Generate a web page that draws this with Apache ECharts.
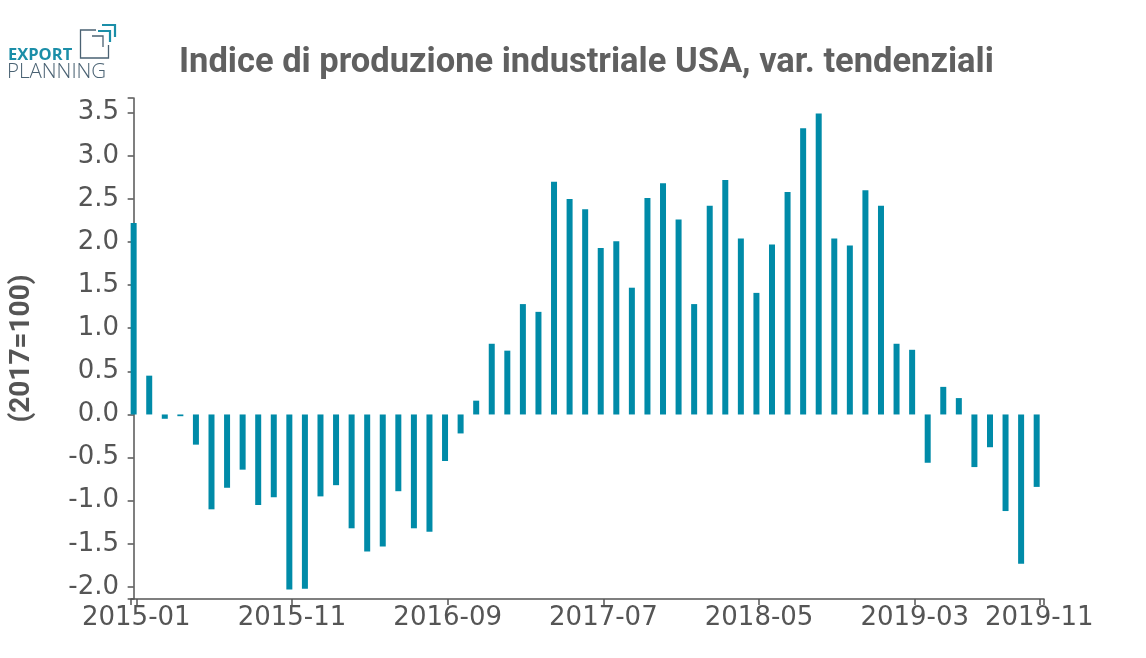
<!DOCTYPE html>
<html>
<head>
<meta charset="utf-8">
<script src="https://cdn.jsdelivr.net/npm/echarts@6/dist/echarts.min.js"></script>
<style>html,body{margin:0;padding:0;background:#fff;}#c{width:1146px;height:658px;}</style>
</head>
<body>
<div id="c"></div>
<script>
const months = ['2015-01','2015-02','2015-03','2015-04','2015-05','2015-06','2015-07','2015-08','2015-09','2015-10','2015-11','2015-12',
'2016-01','2016-02','2016-03','2016-04','2016-05','2016-06','2016-07','2016-08','2016-09','2016-10','2016-11','2016-12',
'2017-01','2017-02','2017-03','2017-04','2017-05','2017-06','2017-07','2017-08','2017-09','2017-10','2017-11','2017-12',
'2018-01','2018-02','2018-03','2018-04','2018-05','2018-06','2018-07','2018-08','2018-09','2018-10','2018-11','2018-12',
'2019-01','2019-02','2019-03','2019-04','2019-05','2019-06','2019-07','2019-08','2019-09','2019-10','2019-11'];
const values = [2.22,0.45,-0.05,-0.02,-0.35,-1.10,-0.85,-0.64,-1.05,-0.96,-2.03,-2.02,
-0.95,-0.82,-1.32,-1.59,-1.53,-0.89,-1.32,-1.36,-0.54,-0.22,0.16,0.82,
0.74,1.28,1.19,2.70,2.50,2.38,1.93,2.01,1.47,2.51,2.68,2.26,
1.28,2.42,2.72,2.04,1.41,1.97,2.58,3.32,3.49,2.04,1.96,2.60,
2.42,0.82,0.75,-0.56,0.32,0.19,-0.61,-0.38,-1.12,-1.73,-0.84];
const xTickLabels = ['2015-01','2015-11','2016-09','2017-07','2018-05','2019-03','2019-11'];
const yTickLabels = [-2.0,-1.5,-1.0,-0.5,0.0,0.5,1.0,1.5,2.0,2.5,3.0,3.5];

const OFF = 0.17;
const X_MIN = -0.17, X_MAX = 58.47;
const Y_MIN = -2.14, Y_MAX = 3.67;
const xTickPos = xTickLabels.map(l => months.indexOf(l) + OFF);

const chart = echarts.init(document.getElementById('c'), null, {renderer:'canvas'});
const axisColor = '#555555';
chart.setOption({
  animation: false,
  backgroundColor: '#ffffff',
  title: {
    text: 'Indice di produzione industriale USA, var. tendenziali',
    left: 174, top: 41,
    textStyle: {fontFamily: 'Roboto', fontWeight: 'bold', fontSize: 34.5, color: '#606060'}
  },
  grid: {left: 128, right: 102, top: 98, bottom: 59, containLabel: false},
  xAxis: {
    type: 'value', min: X_MIN, max: X_MAX,
    splitLine: {show: false},
    axisLine: {show: true, onZero: false, lineStyle: {color: axisColor, width: 1.5}},
    axisTick: {show: true, length: 6, lineStyle: {color: axisColor, width: 1.5},
      customValues: [X_MIN].concat(xTickPos, [X_MAX])},
    axisLabel: {show: true, margin: 6, fontFamily: 'DejaVu Sans', fontSize: 26, color: axisColor,
      customValues: xTickPos,
      formatter: v => months[Math.round(v - OFF)]}
  },
  yAxis: {
    type: 'value', min: Y_MIN, max: Y_MAX,
    name: '(2017=100)', nameLocation: 'middle', nameRotate: 90, nameGap: 95,
    nameTextStyle: {fontFamily: 'Roboto', fontWeight: 'bold', fontSize: 28, color: '#555555'},
    splitLine: {show: false},
    axisLine: {show: true, lineStyle: {color: axisColor, width: 1.5}},
    axisTick: {show: true, length: 6, lineStyle: {color: axisColor, width: 1.5},
      customValues: [Y_MIN].concat(yTickLabels, [Y_MAX])},
    axisLabel: {show: true, margin: 12, fontFamily: 'DejaVu Sans', fontSize: 26, color: axisColor,
      customValues: yTickLabels,
      formatter: v => Number(v).toFixed(1)}
  },
  series: [{
    type: 'bar',
    data: values.map((v, i) => [i, v]),
    barWidth: 6,
    itemStyle: {color: '#008ba8'},
    clip: false
  }],
  graphic: [
    {type: 'text', left: 8, top: 47, style: {text: 'EXPORT', fontFamily: 'Open Sans', fontWeight: 'bold', fontSize: 16.5, fill: '#1b8ea8'}},
    {type: 'text', left: 7, top: 62, style: {text: 'PLANNING', fontFamily: 'Open Sans', fontWeight: 300, fontSize: 20.5, fill: '#4a6273'}},
    {type: 'polyline', shape: {points: [[96,30],[80.5,30],[80.5,58],[108.5,58],[108.5,45]]}, style: {stroke: '#4a6273', lineWidth: 1.3, fill: null}},
    {type: 'polyline', shape: {points: [[92,36],[103,36],[103,47]]}, style: {stroke: '#4a6273', lineWidth: 1.3, fill: null}},
    {type: 'polyline', shape: {points: [[98,31],[110,31],[110,42]]}, style: {stroke: '#1b8ea8', lineWidth: 2.2, fill: null}},
    {type: 'polyline', shape: {points: [[102,25],[115,25],[115,37]]}, style: {stroke: '#1b8ea8', lineWidth: 2.2, fill: null}}
  ]
});
</script>
</body>
</html>
